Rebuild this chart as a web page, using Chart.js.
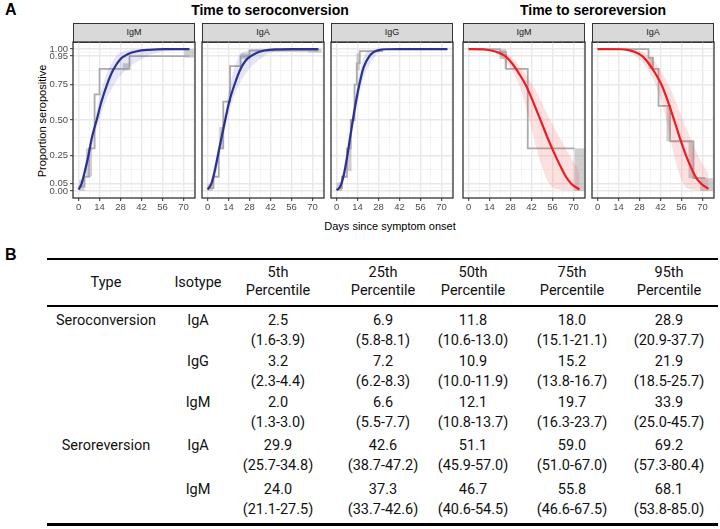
<!DOCTYPE html>
<html>
<head>
<meta charset="utf-8">
<script src="https://cdn.jsdelivr.net/npm/chart.js@4.4.1/dist/chart.umd.min.js"></script>
<style>
  body { margin: 0; width: 720px; height: 529px; position: relative; overflow: hidden; background: #fff; font-family: "Liberation Sans", Arial, sans-serif; color: #000; }
  .abs { position: absolute; white-space: nowrap; }
  .tag { font-weight: bold; font-size: 16px; }
  .title { font-weight: bold; font-size: 14px; transform: translateX(-50%); }
  .strip { background: #d9d9d9; border: 1.3px solid #333; box-sizing: border-box; text-align: center; font-size: 9px; color: #1a1a1a; line-height: 17px; }
  .axis-title { font-size: 11px; color: #000; }
  .panel { position: absolute; }
  .cell { position: absolute; transform: translateX(-50%); text-align: center; white-space: nowrap; font-family: Roboto, sans-serif; font-size: 14.5px; line-height: 20px; color: #111; }
  .rule { position: absolute; left: 47px; width: 671px; background: #000; }
</style>
</head>
<body>
<div class="abs tag" style="left:5px;top:1px;">A</div>
<div class="abs title" style="left:270px;top:2px;">Time to seroconversion</div>
<div class="abs title" style="left:593px;top:2px;">Time to seroreversion</div>
<div class="abs axis-title" style="left:42px;top:121px;transform:translate(-50%,-50%) rotate(-90deg);">Proportion seropositive</div>
<div class="abs axis-title" style="left:390px;top:226px;transform:translate(-50%,-50%);">Days since symptom onset</div>
<div class="abs tag" style="left:5px;top:246px;">B</div>
<div id="panels"></div>
<div id="table"></div>

<script>
// axis breaks
const dayBreaks = [0, 14, 28, 42, 56, 70];
const dayMinor = [7, 21, 35, 49, 63, 77];
const propBreaks = [0, 0.05, 0.25, 0.5, 0.75, 0.95, 1];
const propMinor = [0.025, 0.15, 0.375, 0.625, 0.85, 0.975];

const panelNames = ['IgM', 'IgA', 'IgG', 'IgM', 'IgA'];

// fitted curves [day, proportion seropositive]
const fitConvIgM = [[0,0.01],[2,0.05],[4,0.13],[6.6,0.25],[9,0.38],[12.1,0.5],[15,0.62],[19,0.75],[23,0.85],[28,0.93],[33,0.965],[39,0.985],[47,0.995],[57,1],[74,1]];
const fitConvIgA = [[0,0.01],[2.5,0.05],[5,0.15],[6.9,0.25],[9.4,0.38],[11.8,0.5],[14.5,0.63],[18,0.75],[22,0.86],[25.5,0.92],[28.9,0.95],[33,0.975],[38,0.99],[46,0.998],[56,1],[74,1]];
const fitConvIgG = [[0,0.005],[1.8,0.02],[3.2,0.05],[5.2,0.13],[7.2,0.25],[9.1,0.38],[10.9,0.5],[13,0.63],[15.2,0.75],[18,0.87],[21.9,0.95],[25,0.98],[28,0.993],[33,0.999],[42,1],[74,1]];
const fitRevIgM = [[0,1],[10,0.998],[15,0.99],[20,0.975],[24.5,0.95],[29,0.9],[33.5,0.83],[38,0.75],[43,0.63],[48,0.5],[52.5,0.38],[57,0.27],[61,0.18],[65,0.1],[68.5,0.05],[74,0.01]];
const fitRevIgA = [[0,1],[15,0.999],[20,0.995],[25,0.98],[29.9,0.95],[34,0.9],[38.5,0.83],[42.6,0.75],[47,0.63],[51.1,0.5],[55,0.37],[59,0.25],[63,0.15],[66,0.09],[69.2,0.05],[74,0.015]];

// posterior spread: early and late edges
const bandConvIgMLo = [[0,0.01],[1.3,0.05],[5.5,0.25],[10.8,0.5],[16.3,0.75],[25,0.95],[33,0.99],[45,1],[74,1]];
const bandConvIgMHi = [[0,0.005],[3,0.05],[7.7,0.25],[13.7,0.5],[23.7,0.75],[45.7,0.95],[60,0.985],[74,0.995]];
const bandConvIgALo = [[0,0.01],[1.6,0.05],[5.8,0.25],[10.6,0.5],[15.1,0.75],[20.9,0.95],[27,0.99],[36,1],[74,1]];
const bandConvIgAHi = [[0,0.005],[3.9,0.05],[8.1,0.25],[13,0.5],[21.1,0.75],[37.7,0.95],[50,0.99],[74,1]];
const bandConvIgGLo = [[0,0.005],[2.3,0.05],[6.2,0.25],[10,0.5],[13.8,0.75],[18.5,0.95],[23,0.99],[30,1],[74,1]];
const bandConvIgGHi = [[0,0.003],[4.4,0.05],[8.3,0.25],[11.9,0.5],[16.7,0.75],[25.7,0.95],[32,0.99],[42,1],[74,1]];
const bandRevIgMLo = [[0,1],[10,0.995],[21.1,0.95],[33.7,0.75],[40.6,0.5],[46.6,0.25],[53.8,0.05],[60,0.01],[74,0]];
const bandRevIgMHi = [[0,1],[15,0.995],[27.5,0.95],[42.6,0.75],[54.5,0.5],[67.5,0.25],[74,0.14]];
const bandRevIgALo = [[0,1],[12,0.998],[25.7,0.95],[38.7,0.75],[45.9,0.5],[51,0.25],[57.3,0.05],[63,0.01],[74,0]];
const bandRevIgAHi = [[0,1],[18,0.997],[34.8,0.95],[47.2,0.75],[57,0.5],[67,0.25],[74,0.12]];

// nonparametric step estimates
const stepConvIgM = [[0,0.03],[4,0.1],[7,0.3],[10.7,0.68],[14,0.86],[34,0.95],[74,0.95]];
const stepConvIgA = [[0,0.02],[4,0.1],[7.5,0.3],[10.5,0.63],[15,0.88],[22,0.95],[28,0.99],[74,0.99]];
const stepConvIgG = [[0,0.02],[3.6,0.1],[7,0.3],[9.5,0.5],[12,0.75],[13.5,0.9],[15.5,0.985],[31,0.985]];
const stepRevIgM = [[0,1],[21,0.98],[25,0.86],[39.5,0.3],[70.7,0.3]];
const stepRevIgA = [[0,1],[34,0.94],[37,0.86],[40.7,0.6],[48.4,0.35],[64,0.09],[72,0.09]];

// ambiguity boxes [day from, day to, prop from, prop to]
const boxConvIgM = [[0.5,4,0,0.08],[5,9,0.1,0.3],[29.5,34,0.85,0.9],[70.5,77,0.94,1]];
const boxConvIgA = [[0,3.5,0,0.05],[7.8,10.5,0.3,0.45],[22,28,0.93,0.97],[67,76,0.975,1]];
const boxConvIgG = [[0,3.6,0,0.06],[6.7,10,0.14,0.3],[13.3,15.5,0.85,0.97]];
const boxRevIgM = [[20.7,25,0.93,1],[24,25.5,0.86,0.93],[70.7,77.3,0,0.3]];
const boxRevIgA = [[34,37,0.86,0.94],[46,48.4,0.35,0.6],[60.7,64,0.09,0.35],[68.5,77,0,0.09]];

// table B
const tableType = ['Seroconversion', '', '', 'Seroreversion', ''];
const tableIsotype = ['IgA', 'IgG', 'IgM', 'IgA', 'IgM'];
const pctHeaders = ['5th', '25th', '50th', '75th', '95th'];
const pctEstimate = [
  ['2.5', '6.9', '11.8', '18.0', '28.9'],
  ['3.2', '7.2', '10.9', '15.2', '21.9'],
  ['2.0', '6.6', '12.1', '19.7', '33.9'],
  ['29.9', '42.6', '51.1', '59.0', '69.2'],
  ['24.0', '37.3', '46.7', '55.8', '68.1']
];
const pctInterval = [
  ['1.6-3.9', '5.8-8.1', '10.6-13.0', '15.1-21.1', '20.9-37.7'],
  ['2.3-4.4', '6.2-8.3', '10.0-11.9', '13.8-16.7', '18.5-25.7'],
  ['1.3-3.0', '5.5-7.7', '10.8-13.7', '16.3-23.7', '25.0-45.7'],
  ['25.7-34.8', '38.7-47.2', '45.9-57.0', '51.0-67.0', '57.3-80.4'],
  ['21.1-27.5', '33.7-42.6', '40.6-54.5', '46.6-67.5', '53.8-85.0']
];

const panels = [
  { fit: fitConvIgM, lo: bandConvIgMLo, hi: bandConvIgMHi, step: stepConvIgM, boxes: boxConvIgM, kind: 'conv' },
  { fit: fitConvIgA, lo: bandConvIgALo, hi: bandConvIgAHi, step: stepConvIgA, boxes: boxConvIgA, kind: 'conv' },
  { fit: fitConvIgG, lo: bandConvIgGLo, hi: bandConvIgGHi, step: stepConvIgG, boxes: boxConvIgG, kind: 'conv' },
  { fit: fitRevIgM, lo: bandRevIgMLo, hi: bandRevIgMHi, step: stepRevIgM, boxes: boxRevIgM, kind: 'rev' },
  { fit: fitRevIgA, lo: bandRevIgALo, hi: bandRevIgAHi, step: stepRevIgA, boxes: boxRevIgA, kind: 'rev' }
];

const panelLefts = [73, 202, 331, 463, 592];
const plotW = 122, axisW = 30, plotTop = 42, padTop = 8, xAxisH = 18, plotH = 156;
const colors = {
  conv: { line: '#2b3190', band: 'rgba(70,80,190,0.14)' },
  rev: { line: '#ec1c24', band: 'rgba(245,70,70,0.17)' }
};

const toXY = arr => arr.map(([x, y]) => ({ x, y }));

const boxPlugin = {
  id: 'boxes',
  beforeDatasetsDraw(chart) {
    const { ctx, chartArea, scales } = chart;
    const boxes = chart.options.plugins.boxes.list;
    ctx.save();
    ctx.beginPath();
    ctx.rect(chartArea.left, chartArea.top, chartArea.width, chartArea.height);
    ctx.clip();
    ctx.fillStyle = 'rgba(160,160,160,0.5)';
    boxes.forEach(([x0, x1, y0, y1]) => {
      const px0 = scales.x.getPixelForValue(x0), px1 = scales.x.getPixelForValue(x1);
      const py0 = scales.y.getPixelForValue(y0), py1 = scales.y.getPixelForValue(y1);
      ctx.fillRect(px0, py1, px1 - px0, py0 - py1);
    });
    ctx.restore();
  }
};

const borderPlugin = {
  id: 'panelBorder',
  afterDraw(chart) {
    const { ctx, chartArea } = chart;
    ctx.save();
    ctx.strokeStyle = '#333';
    ctx.lineWidth = 1.3;
    ctx.strokeRect(chartArea.left, chartArea.top, chartArea.width, chartArea.height);
    ctx.restore();
  }
};

const panelsEl = document.getElementById('panels');

panels.forEach((p, i) => {
  const left = panelLefts[i];
  const strip = document.createElement('div');
  strip.className = 'abs strip';
  strip.style.cssText = `left:${left}px;top:23px;width:${plotW}px;height:20px;`;
  strip.textContent = panelNames[i];
  panelsEl.appendChild(strip);

  const canvas = document.createElement('canvas');
  canvas.className = 'panel';
  canvas.width = axisW + plotW + 4;
  canvas.height = padTop + plotH + xAxisH;
  canvas.style.left = (left - axisW) + 'px';
  canvas.style.top = (plotTop - padTop) + 'px';
  panelsEl.appendChild(canvas);

  const showY = i === 0;
  const col = colors[p.kind];

  new Chart(canvas, {
    type: 'line',
    data: {
      datasets: [
        { data: toXY(p.fit), borderColor: col.line, borderWidth: 2.2, cubicInterpolationMode: 'monotone', fill: false },
        { data: toXY(p.lo), borderWidth: 0, borderColor: 'transparent', backgroundColor: col.band, cubicInterpolationMode: 'monotone', fill: '+1' },
        { data: toXY(p.hi), borderWidth: 0, borderColor: 'transparent', cubicInterpolationMode: 'monotone', fill: false },
        { data: toXY(p.step), borderColor: '#ababab', borderWidth: 1.8, stepped: true, fill: false }
      ]
    },
    options: {
      responsive: false,
      animation: false,
      layout: { padding: { top: padTop, right: 4, left: 0, bottom: 0 } },
      elements: { point: { radius: 0 } },
      plugins: { legend: { display: false }, tooltip: { enabled: false }, boxes: { list: p.boxes } },
      scales: {
        x: {
          type: 'linear', min: -3.7, max: 77.7,
          afterBuildTicks: s => { s.ticks = dayBreaks.concat(dayMinor).sort((a, b) => a - b).map(v => ({ value: v })); },
          afterFit: s => { s.height = xAxisH; },
          border: { display: false },
          grid: {
            color: c => dayBreaks.includes(c.tick.value) ? '#e8e8e8' : '#f1f1f1',
            lineWidth: c => dayBreaks.includes(c.tick.value) ? 1.4 : 0.8,
            tickColor: c => dayBreaks.includes(c.tick.value) ? '#333' : 'rgba(0,0,0,0)',
            tickLength: 3, tickWidth: 1
          },
          ticks: {
            autoSkip: false, maxRotation: 0, padding: 1,
            color: '#4d4d4d', font: { family: 'Liberation Sans', size: 9.5 },
            callback: v => dayBreaks.includes(v) ? String(v) : ''
          }
        },
        y: {
          type: 'linear', min: -0.05, max: 1.05,
          afterBuildTicks: s => { s.ticks = propBreaks.concat(propMinor).sort((a, b) => a - b).map(v => ({ value: v })); },
          afterFit: s => { s.width = axisW; },
          border: { display: false },
          grid: {
            color: c => propBreaks.includes(c.tick.value) ? '#e8e8e8' : '#f1f1f1',
            lineWidth: c => propBreaks.includes(c.tick.value) ? 1.4 : 0.8,
            drawTicks: showY,
            tickColor: c => propBreaks.includes(c.tick.value) ? '#333' : 'rgba(0,0,0,0)',
            tickLength: 3, tickWidth: 1
          },
          ticks: {
            display: showY, autoSkip: false, padding: 2,
            color: '#4d4d4d', font: { family: 'Liberation Sans', size: 9.5 },
            callback: v => propBreaks.includes(v) ? v.toFixed(2) : ''
          }
        }
      }
    },
    plugins: [boxPlugin, borderPlugin]
  });
});

// table
const tableEl = document.getElementById('table');
const colCenters = [106, 198, 278, 383, 473, 572, 669];
const rowTops = [311, 352, 393, 436, 480];
const addCell = (text, x, y, extra) => {
  const d = document.createElement('div');
  d.className = 'cell';
  d.style.left = x + 'px';
  d.style.top = y + 'px';
  if (extra) d.style.cssText += extra;
  d.innerHTML = text;
  tableEl.appendChild(d);
};
const addRule = (y, h) => {
  const r = document.createElement('div');
  r.className = 'rule';
  r.style.top = y + 'px';
  r.style.height = h + 'px';
  tableEl.appendChild(r);
};

addRule(258, 2.2);
addRule(305, 2.2);
addRule(523, 2.8);
addCell('Type', colCenters[0], 273);
addCell('Isotype', colCenters[1], 273);
pctHeaders.forEach((h, j) => addCell(h + '<br>Percentile', colCenters[j + 2], 264, 'line-height:18px;'));
tableIsotype.forEach((iso, r) => {
  const y = rowTops[r];
  if (tableType[r]) addCell(tableType[r], colCenters[0], y);
  addCell(iso, colCenters[1], y);
  pctEstimate[r].forEach((est, j) => addCell(est + '<br>(' + pctInterval[r][j] + ')', colCenters[j + 2], y));
});
</script>
</body>
</html>
